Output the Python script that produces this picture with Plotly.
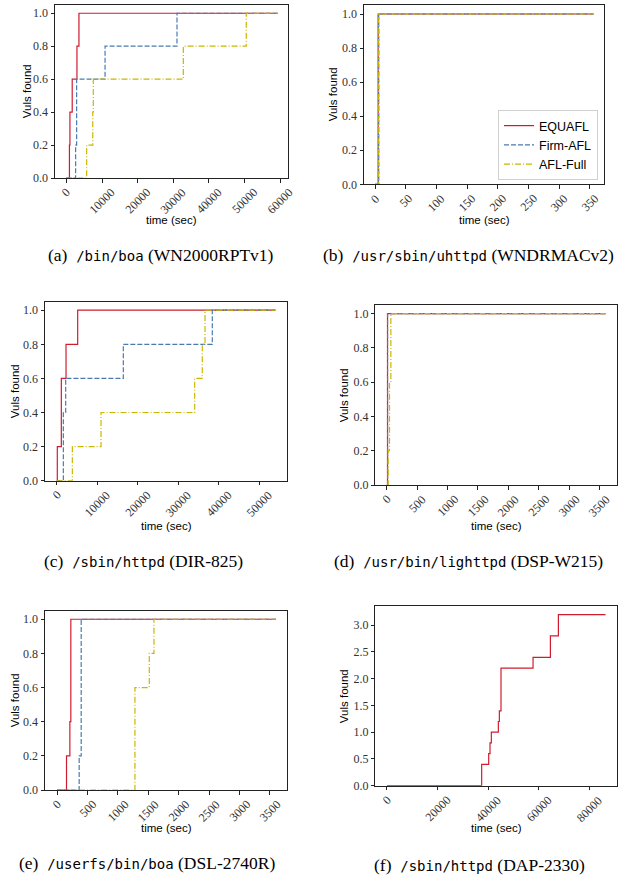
import plotly.graph_objects as go

# ---------------- data ----------------
series_names = ["EQUAFL", "Firm-AFL", "AFL-Full"]

# (a) /bin/boa (WN2000RPTv1)
a_equafl_t = [0, 850, 990, 1630, 2960, 3520, 59300]
a_equafl_v = [0, 0.2, 0.4, 0.6, 0.8, 1.0, 1.0]
a_firm_t = [0, 2590, 2870, 10850, 31040, 59300]
a_firm_v = [0, 0.2, 0.6, 0.8, 1.0, 1.0]
a_full_t = [0, 5690, 7400, 7550, 32820, 50480, 59300]
a_full_v = [0, 0.2, 0.4, 0.6, 0.8, 1.0, 1.0]

# (b) /usr/sbin/uhttpd (WNDRMACv2)
b_equafl_t = [0, 5, 356]
b_equafl_v = [0, 1.0, 1.0]
b_firm_t = [0, 6, 356]
b_firm_v = [0, 1.0, 1.0]
b_full_t = [0, 6, 356]
b_full_v = [0, 1.0, 1.0]

# (c) /sbin/httpd (DIR-825)
c_equafl_t = [0, 150, 1140, 2300, 5180, 54000]
c_equafl_v = [0, 0.2, 0.6, 0.8, 1.0, 1.0]
c_firm_t = [0, 1640, 2220, 16450, 38420, 54000]
c_firm_v = [0, 0.4, 0.6, 0.8, 1.0, 1.0]
c_full_t = [0, 3860, 10940, 34070, 35950, 36620, 54000]
c_full_v = [0, 0.2, 0.4, 0.6, 0.8, 1.0, 1.0]

# (d) /usr/bin/lighttpd (DSP-W215)
d_equafl_t = [0, 11, 3600]
d_equafl_v = [0, 1.0, 1.0]
d_firm_t = [0, 12, 3600]
d_firm_v = [0, 1.0, 1.0]
d_full_t = [0, 22, 44, 66, 3600]
d_full_v = [0, 0.2, 0.6, 1.0, 1.0]

# (e) /userfs/bin/boa (DSL-2740R)
e_equafl_t = [0, 154, 209, 225, 3600]
e_equafl_v = [0, 0.2, 0.4, 1.0, 1.0]
e_firm_t = [0, 362, 395, 3600]
e_firm_v = [0, 0.2, 1.0, 1.0]
e_full_t = [0, 1279, 1515, 1592, 3600]
e_full_v = [0, 0.6, 0.8, 1.0, 1.0]

# (f) /sbin/httpd (DAP-2330)
f_equafl_t = [0, 37430, 40200, 40725, 41250, 44020, 44420, 45070, 57730, 64580, 67740, 86400]
f_equafl_v = [0, 0.4, 0.6, 0.8, 1.0, 1.2, 1.4, 2.2, 2.4, 2.8, 3.2, 3.2]

# tick values
a_xticks = [0, 10000, 20000, 30000, 40000, 50000, 60000]
b_xticks = [0, 50, 100, 150, 200, 250, 300, 350]
c_xticks = [0, 10000, 20000, 30000, 40000, 50000]
d_xticks = [0, 500, 1000, 1500, 2000, 2500, 3000, 3500]
e_xticks = [0, 500, 1000, 1500, 2000, 2500, 3000, 3500]
f_xticks = [0, 20000, 40000, 60000, 80000]
y_ticks_unit = [0, 0.2, 0.4, 0.6, 0.8, 1.0]
f_yticks = [0, 0.5, 1.0, 1.5, 2.0, 2.5, 3.0]

captions = [
    ("(a)", "/bin/boa", "(WN2000RPTv1)"),
    ("(b)", "/usr/sbin/uhttpd", "(WNDRMACv2)"),
    ("(c)", "/sbin/httpd", "(DIR-825)"),
    ("(d)", "/usr/bin/lighttpd", "(DSP-W215)"),
    ("(e)", "/userfs/bin/boa", "(DSL-2740R)"),
    ("(f)", "/sbin/httpd", "(DAP-2330)"),
]

# ---------------- styling / layout ----------------
W, H = 623, 879
COLORS = ["#d01c2f", "#4a7bb0", "#c9b800"]
DASHES = ["solid", "5px,2px", "6px,2px,1px,2px"]
SERIF = "Liberation Serif, DejaVu Serif, serif"
SANS = "Liberation Sans, Arial, sans-serif"
TICKFONT = dict(family=SERIF, size=12, color="#333")

# pixel boxes of each plot area: (left, right, top, bottom)
boxes = [
    (55, 288, 5, 178),
    (364, 604, 5, 184.3),
    (45, 287.3, 301.7, 480.7),
    (375.3, 617, 305, 485),
    (45, 287.3, 610.7, 790),
    (375.3, 617, 606, 785.7),
]
xranges = [[-3200, 62200], [-18, 373], [-2890, 56940], [-190, 3790], [-200, 3785], [-4600, 90900]]
yranges = [[0, 1.05], [0, 1.053], [0, 1.05], [0, 1.05], [0, 1.05], [0, 3.36]]
xticks_all = [a_xticks, b_xticks, c_xticks, d_xticks, e_xticks, f_xticks]
yticks_all = [y_ticks_unit] * 5 + [f_yticks]

data_sets = [
    [(a_equafl_t, a_equafl_v), (a_firm_t, a_firm_v), (a_full_t, a_full_v)],
    [(b_equafl_t, b_equafl_v), (b_firm_t, b_firm_v), (b_full_t, b_full_v)],
    [(c_equafl_t, c_equafl_v), (c_firm_t, c_firm_v), (c_full_t, c_full_v)],
    [(d_equafl_t, d_equafl_v), (d_firm_t, d_firm_v), (d_full_t, d_full_v)],
    [(e_equafl_t, e_equafl_v), (e_firm_t, e_firm_v), (e_full_t, e_full_v)],
    [(f_equafl_t, f_equafl_v)],
]

# label positions (pixels)
ylabel_x = [26.7, 332.7, 15, 344.3, 15, 344.3]
xlabel_y = [220, 220, 525.7, 525.7, 828, 828]
caption_pos = [(161, 255), (468, 255), (143, 561), (468, 561), (147, 863), (479, 865)]

fig = go.Figure()
layout = dict(
    width=W, height=H,
    margin=dict(l=0, r=0, t=0, b=0),
    paper_bgcolor="white", plot_bgcolor="white",
    showlegend=True,
    annotations=[],
)

def px_x(p):
    return p / W

def px_y(p):
    return 1 - p / H

for i in range(6):
    n = i + 1
    xa = "x" if n == 1 else f"x{n}"
    ya = "y" if n == 1 else f"y{n}"
    xkey = "xaxis" if n == 1 else f"xaxis{n}"
    ykey = "yaxis" if n == 1 else f"yaxis{n}"
    l, r, t, b = boxes[i]
    for k, (tt, vv) in enumerate(data_sets[i]):
        fig.add_trace(go.Scatter(
            x=tt, y=vv, mode="lines", line_shape="hv",
            line=dict(color=COLORS[k], width=1.2, dash=DASHES[k]),
            name=series_names[k], xaxis=xa, yaxis=ya,
            showlegend=(i == 1), hoverinfo="skip",
        ))
    axis_common = dict(
        showgrid=False, zeroline=False, showline=True, linecolor="#222",
        linewidth=1, mirror=True, ticks="outside", ticklen=3.5, tickwidth=0.8,
        tickcolor="#222", automargin=False, tickfont=TICKFONT,
    )
    layout[xkey] = dict(
        axis_common, domain=[px_x(l), px_x(r)], range=xranges[i], anchor=ya,
        tickmode="array", tickvals=xticks_all[i], showticklabels=False,
    )
    layout[ykey] = dict(
        axis_common, domain=[px_y(b), px_y(t)], range=yranges[i], anchor=xa,
        tickmode="array", tickvals=yticks_all[i],
        ticktext=[f"{v:.1f}" for v in yticks_all[i]],
    )
    # rotated x tick labels, centred under their ticks (matplotlib style)
    for v in xticks_all[i]:
        layout["annotations"].append(dict(
            text=str(v), x=v, xref=xa, y=px_y(b + 6), yref="paper",
            textangle=-45, showarrow=False, xanchor="center", yanchor="top",
            font=TICKFONT, borderpad=0,
        ))
    cx = (l + r) / 2
    cy = (t + b) / 2
    layout["annotations"].append(dict(
        text="Vuls found", x=px_x(ylabel_x[i]), y=px_y(cy), xref="paper", yref="paper",
        textangle=-90, showarrow=False, xanchor="center", yanchor="middle",
        font=dict(family=SANS, size=11.5, color="black"),
    ))
    layout["annotations"].append(dict(
        text="time (sec)", x=px_x(cx), y=px_y(xlabel_y[i]), xref="paper", yref="paper",
        showarrow=False, xanchor="center", yanchor="middle",
        font=dict(family=SANS, size=11.5, color="black"),
    ))
    lab, mono, rest = captions[i]
    cap = (f"{lab}&nbsp;&nbsp;<span style=\"font-family:DejaVu Sans Mono;font-size:14px\">{mono}</span>"
           f"&nbsp;{rest}")
    cxp, cyp = caption_pos[i]
    layout["annotations"].append(dict(
        text=cap, x=px_x(cxp), y=px_y(cyp), xref="paper", yref="paper",
        showarrow=False, xanchor="center", yanchor="middle",
        font=dict(family=SERIF, size=17.5, color="black"),
    ))

layout["legend"] = dict(
    x=px_x(598), y=px_y(180), xanchor="right", yanchor="bottom",
    bgcolor="white", bordercolor="#d0d0d0", borderwidth=1,
    font=dict(family=SANS, size=12.5, color="black"),
    tracegroupgap=0, itemwidth=30,
)
fig.update_layout(**layout)
fig.write_html(
    "out.html",
    config={"displayModeBar": False},
    post_script="document.body.style.margin='0';document.body.style.overflow='hidden';",
)
